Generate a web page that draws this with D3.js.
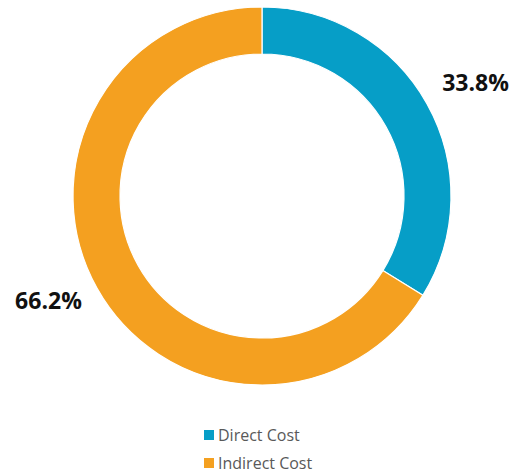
<!DOCTYPE html>
<html>
<head>
<meta charset="utf-8">
<script src="https://cdn.jsdelivr.net/npm/d3@7"></script>
<style>
  html, body { margin: 0; padding: 0; background: #fff; }
  svg { display: block; }
</style>
</head>
<body>
<svg id="chart" width="510" height="474"></svg>
<script>
// Cost breakdown shares
const categories = ["Direct Cost", "Indirect Cost"];
const values = [33.8, 66.2];
const colors = ["#069ec7", "#f4a020"];

const svg = d3.select("#chart");
const cx = 262, cy = 196;
const outerR = 189, innerR = 142;
const labelR = 211;

const pie = d3.pie().sort(null).value(d => d.value);
const data = pie(categories.map((c, i) => ({ name: c, value: values[i] })));

const arc = d3.arc().innerRadius(innerR).outerRadius(outerR);
const color = d3.scaleOrdinal().domain(categories).range(colors);

const g = svg.append("g").attr("transform", `translate(${cx},${cy})`);

g.selectAll("path.slice")
  .data(data)
  .join("path")
  .attr("class", "slice")
  .attr("d", arc)
  .attr("fill", d => color(d.data.name))
  .attr("stroke", "#fff")
  .attr("stroke-width", 1.2);

// Outside-end value labels: the label box is pushed outward along the slice's mid angle
const labels = g.selectAll("text.value")
  .data(data)
  .join("text")
  .attr("class", "value")
  .attr("text-anchor", "middle")
  .attr("dominant-baseline", "central")
  .attr("font-family", "'Open Sans', sans-serif")
  .attr("font-weight", "bold")
  .attr("font-size", 23)
  .attr("fill", "#111")
  .text(d => d.data.value.toFixed(1) + "%");

labels.each(function(d) {
  const a = (d.startAngle + d.endAngle) / 2;
  const bb = this.getBBox();
  const px = labelR * Math.sin(a), py = -labelR * Math.cos(a);
  const x = px + (bb.width / 2) * Math.sin(a);
  const y = py - 12 * Math.cos(a) - 5;
  d3.select(this).attr("transform", `translate(${x},${y})`);
});

// Legend
const legend = svg.append("g").attr("transform", "translate(204,430)");
const item = legend.selectAll("g")
  .data(categories)
  .join("g")
  .attr("transform", (d, i) => `translate(0,${i * 28})`);
item.append("rect")
  .attr("width", 10).attr("height", 10)
  .attr("fill", d => color(d));
item.append("text")
  .attr("x", 14).attr("y", 5)
  .attr("dominant-baseline", "central")
  .attr("font-family", "'Open Sans', sans-serif")
  .attr("font-size", 16)
  .attr("fill", "#595959")
  .text(d => d);
</script>
</body>
</html>
